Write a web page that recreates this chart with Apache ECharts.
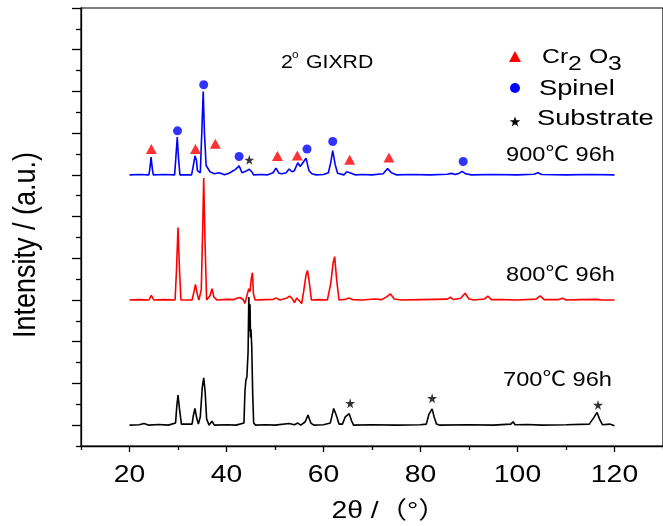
<!DOCTYPE html>
<html>
<head>
<meta charset="utf-8">
<script src="https://cdn.jsdelivr.net/npm/echarts@6/dist/echarts.min.js"></script>
<style>
  html, body { margin: 0; padding: 0; background: #fff; }
  #chart { width: 663px; height: 526px; }
</style>
</head>
<body>
<div id="chart"></div>
<script>
const FONT = '"Liberation Sans", Arial, "Noto Sans CJK SC", sans-serif';
const WIDE = 1.18; // horizontal stretch of the lettering

// Diffraction profiles: [2θ (°), intensity above the pattern's own baseline]
const pattern900 = [
  [20,0],[22,0.02],[24.0,0],[24.2,0.3],[24.45,0.85],[24.7,0.3],[24.9,0],[27,0.02],
  [29.3,0],[29.55,0.8],[29.85,1.81],[30.1,0.8],[30.4,0],[32.8,0],[33.2,0.5],[33.5,0.91],
  [33.8,0.7],[34.0,0.2],[34.6,0.1],[34.9,2.0],[35.2,4.0],[35.45,2.0],[35.8,0.45],[36.2,0.4],
  [36.6,0.15],[37.5,0.05],[38.5,0.1],[39.6,0],[40.5,0.08],[41.2,0.17],[41.8,0.25],[42.6,0.43],
  [43.2,0.1],[43.6,0.05],[44.2,0.2],[44.7,0.27],[45.2,0.15],[45.6,0],[47,0.02],[48.5,0],
  [49.6,0.1],[50.2,0.32],[50.8,0.08],[51.5,0.05],[52.3,0.1],[52.9,0.28],[53.5,0.15],[54.0,0.2],
  [54.7,0.58],[55.2,0.4],[55.6,0.45],[56.4,0.8],[57.0,0.2],[57.6,0.05],[58.5,0],[60,0.02],
  [61.0,0.1],[61.5,0.6],[61.9,1.16],[62.4,0.5],[62.9,0.08],[64.2,0],[64.8,0.15],[65.2,0.24],
  [65.7,0.08],[66.5,0],[68,0.02],[70,0],[72.3,0.05],[73.2,0.3],[74.0,0.1],[75,0],[78,0.02],
  [82,0],[85.5,0.03],[86.4,0.07],[87.2,0.02],[88.0,0.08],[88.6,0.17],[89.3,0.05],[90.5,0],
  [95,0.02],[100,0],[103.4,0.03],[104.2,0.1],[105,0.02],[110,0],[115,0.02],[120,0]
];
const pattern800 = [
  [20,0],[22,0.02],[24.0,0],[24.5,0.22],[25.0,0],[27,0.02],[29.4,0],[29.7,1.5],[30.0,3.47],
  [30.3,1.5],[30.6,0],[32.9,0],[33.3,0.4],[33.6,0.75],[33.95,0.3],[34.3,0],[34.8,0.5],
  [35.1,3.5],[35.3,5.85],[35.55,3.0],[35.9,0],[36.6,0.2],[37.0,0.54],[37.4,0.15],[38,0],
  [40,0.03],[41.5,0.02],[42.3,0.1],[42.8,0.12],[43.5,0],[43.8,-0.17],[44.2,0.2],[44.6,0.54],
  [44.85,0.4],[45.1,1.0],[45.35,1.31],[45.55,0.3],[45.9,0],[48,0.02],[49.6,0.03],[50.3,0.09],
  [51.0,0],[52.5,0.1],[53.0,0.19],[53.6,0.05],[54.0,-0.13],[54.5,0.1],[54.9,0.1],[55.5,-0.17],
  [55.9,0.4],[56.4,1.2],[56.7,1.42],[57.1,0.8],[57.5,0],[59,0.02],[60.8,0],[61.5,0.8],
  [62.0,1.8],[62.3,2.08],[62.7,1.0],[63.2,0],[64.5,0.03],[65.2,0.1],[66,0.02],[68,0],
  [70.5,0.05],[72,0.02],[73.0,0.15],[73.8,0.29],[74.6,0.05],[76,0],[80,0.02],[85.5,0.04],
  [86.2,0.13],[86.8,0.02],[88.3,0.08],[89.2,0.32],[90,0.05],[91,0],[93.2,0.05],[93.9,0.19],
  [94.6,0.02],[97,0.02],[100,0],[103.8,0.04],[104.7,0.2],[105.5,0.02],[108.5,0.02],
  [109.3,0.08],[110,0],[113,0.02],[116.5,0.03],[116.8,0.08],[117.3,0],[120,0]
];
const pattern700 = [
  [20,0],[22,0.02],[23.0,0.08],[24,0],[26,0.03],[28,0],[29.5,0.1],[29.75,0.9],[30.0,1.44],
  [30.3,0.8],[30.7,0.05],[32.9,0.05],[33.2,0.5],[33.5,0.8],[33.8,0.4],[34.2,0.05],[34.6,0.4],
  [35.0,1.8],[35.3,2.27],[35.6,1.6],[35.9,0.3],[36.4,0],[37.0,0.19],[37.5,0],[40,0.02],
  [42,0],[43.6,0.1],[43.8,1.6],[44.0,2.16],[44.2,2.3],[44.45,3.5],[44.6,6.14],[44.75,4.5],
  [44.85,5.8],[44.95,4.2],[45.05,4.6],[45.2,3.8],[45.4,1.5],[45.6,0.1],[46,0],[48,0.02],
  [50,0],[52.9,0.08],[54,0.02],[54.7,0.1],[55.3,0],[56.2,0.15],[56.8,0.48],[57.4,0.1],
  [58,0],[60,0.02],[61.4,0.1],[62.1,0.8],[62.6,0.5],[63.2,0.05],[63.9,0.05],[64.5,0.4],
  [64.9,0.35],[65.3,0.55],[65.5,0.59],[65.8,0.2],[66.2,0],[70,0.02],[75,0],[80,0.02],
  [81.2,0.05],[81.7,0.5],[82.0,0.62],[82.4,0.78],[82.8,0.4],[83.3,0.05],[84,0],[90,0.02],
  [95,0],[98.6,0.05],[99.1,0.16],[99.5,0.02],[102,0.03],[105,0],[110,0.02],[114.8,0.05],
  [115.7,0.35],[116.4,0.61],[116.9,0.3],[117.5,0.02],[119,0.05],[120,-0.03]
];

// Vertical offsets that stack the three patterns
const baseline700 = 1;
const baseline800 = 7;
const baseline900 = 13;

// Phase markers placed above the indexed reflections
const markCr2O3 = [[24.5,14.24],[33.6,14.24],[37.7,14.49],[50.5,13.9],[54.6,13.93],[65.4,13.72],[73.5,13.83]];
const markSpinel = [[29.9,15.11],[35.3,17.32],[42.6,13.88],[56.6,14.24],[61.9,14.6],[88.8,13.64]];
const markSubstrate = [[44.7,13.72],[65.5,2.05],[82.4,2.29],[116.6,1.97]];

// Axis ticks
const xLabelValues = [20, 40, 60, 80, 100, 120];
const xMinorTicks = [10, 30, 50, 70, 90, 110, 130];
const yMajorTicks = [1, 3, 5, 7, 9, 11, 13, 15, 17, 19, 21];
const yMinorTicks = [0, 2, 4, 6, 8, 10, 12, 14, 16, 18, 20];

const STAR = 'path://M50,0 L61,35 L98,35 L68,57 L79,91 L50,70 L21,91 L32,57 L2,35 L39,35 Z';

// five-pointed star outline for the key
function starPoints(cx, cy, rOut, rIn) {
  const pts = [];
  for (let i = 0; i < 10; i++) {
    const r = i % 2 ? rIn : rOut;
    const a = -Math.PI / 2 + i * Math.PI / 5;
    pts.push([cx + r * Math.cos(a), cy + r * Math.sin(a)]);
  }
  return pts;
}

const shift = (pts, b) => pts.map(p => [p[0], p[1] + b]);

const lineSeries = (name, pts, base, color) => ({
  name, type: 'line', data: shift(pts, base), showSymbol: false, symbol: 'none',
  lineStyle: { color, width: 1.6 }, silent: true, z: 2
});

const txt = (x, y, text, size, align, wide) => ({
  type: 'text', x, y, scaleX: wide || WIDE,
  style: { text, font: `${size}px ${FONT}`, fill: '#000', textAlign: align || 'left', textVerticalAlign: 'middle' }
});

const chart = echarts.init(document.getElementById('chart'), null, { renderer: 'canvas' });

chart.setOption({
  animation: false,
  backgroundColor: '#fff',
  grid: { left: 81, top: 8, right: -11, bottom: 80, show: true, borderColor: '#000', borderWidth: 1.2 },
  xAxis: [
    {
      type: 'value', min: 10, max: 130, position: 'bottom',
      axisLine: { lineStyle: { color: '#000', width: 1.3 } },
      axisTick: { customValues: xMinorTicks, length: 4, lineStyle: { color: '#000', width: 1.3 } },
      axisLabel: { show: false },
      splitLine: { show: false }
    },
    {
      type: 'value', min: 10, max: 130, position: 'bottom',
      axisLine: { show: false },
      axisTick: { customValues: xLabelValues, length: 6, lineStyle: { color: '#000', width: 1.3 } },
      axisLabel: { show: false },
      splitLine: { show: false }
    }
  ],
  yAxis: [
    {
      type: 'value', min: 0, max: 21, position: 'left',
      axisLine: { show: true, lineStyle: { color: '#000', width: 1.3 } },
      axisTick: { show: true, customValues: yMinorTicks, length: 5, lineStyle: { color: '#000', width: 1.3 } },
      axisLabel: { show: false },
      splitLine: { show: false }
    },
    {
      type: 'value', min: 0, max: 21, position: 'left',
      axisLine: { show: false },
      axisTick: { show: true, customValues: yMajorTicks, length: 9, lineStyle: { color: '#000', width: 1.3 } },
      axisLabel: { show: false },
      splitLine: { show: false }
    }
  ],
  series: [
    lineSeries('700℃ 96h', pattern700, baseline700, '#000000'),
    lineSeries('800℃ 96h', pattern800, baseline800, '#ff0000'),
    lineSeries('900℃ 96h', pattern900, baseline900, '#0000ff'),
    { name: 'Cr2O3', type: 'scatter', data: markCr2O3, symbol: 'triangle', symbolSize: [11, 10],
      itemStyle: { color: '#ff0000' }, z: 3 },
    { name: 'Spinel', type: 'scatter', data: markSpinel, symbol: 'circle', symbolSize: 9,
      itemStyle: { color: '#0000ff' }, z: 3 },
    { name: 'Substrate', type: 'scatter', data: markSubstrate, symbol: STAR, symbolSize: 10,
      itemStyle: { color: '#000' }, z: 3 }
  ]
});

// tick labels under the 2θ axis, placed through the axis scale
const axisY = chart.convertToPixel({ yAxisIndex: 0 }, 0);
const tickLabels = xLabelValues.map(v =>
  txt(chart.convertToPixel({ xAxisIndex: 0 }, v), axisY + 29, String(v), 24, 'center'));

chart.setOption({
  graphic: tickLabels.concat([
    // axis titles
    txt(389, 511, '2θ /（°）', 24, 'center'),
    { type: 'text', x: 26.5, y: 245, rotation: Math.PI / 2, scaleY: WIDE,
      style: { text: 'Intensity / (a.u.)', font: `27px ${FONT}`, fill: '#000', textAlign: 'center', textVerticalAlign: 'middle' } },
    // measurement note
    txt(281, 63, '2', 18),
    txt(292, 55, 'o', 10),
    txt(306, 63, 'GIXRD', 18),
    // phase key
    { type: 'polygon', shape: { points: [[509, 62], [521, 62], [515, 51]] }, style: { fill: '#ff0000' } },
    txt(542, 57, 'Cr', 21), txt(568, 64, '2', 21), txt(589, 57, 'O', 21), txt(608, 64, '3', 21),
    { type: 'circle', shape: { cx: 515, cy: 88, r: 5 }, style: { fill: '#0000ff' } },
    txt(539, 89, 'Spinel', 22, 'left', 1.24),
    { type: 'polygon', shape: { points: starPoints(515, 122, 5.5, 2.2) }, style: { fill: '#000' } },
    txt(537, 119, 'Substrate', 22, 'left', 1.24),
    // pattern labels
    txt(506, 155.5, '900℃ 96h', 20),
    txt(506, 275, '800℃ 96h', 20),
    txt(503, 380, '700℃ 96h', 20)
  ])
});
</script>
</body>
</html>
